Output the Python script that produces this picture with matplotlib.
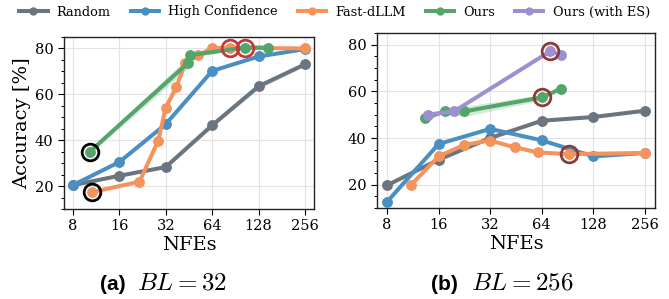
import matplotlib
matplotlib.use("Agg")
import matplotlib.pyplot as plt
import numpy as np
from matplotlib.ticker import FixedLocator, NullFormatter, MultipleLocator
from matplotlib.lines import Line2D

plt.rcParams['font.family'] = ['DejaVu Serif']
plt.rcParams['mathtext.fontset'] = 'cm'

# ---------------- data ----------------
nfe_ticks = [8, 16, 32, 64, 128, 256]

# (a) BL = 32
rand_x_a = [8, 16, 32, 64, 128, 256]
rand_y_a = [20.4, 24.5, 28.3, 46.5, 63.5, 73.1]
rand_s_a = [0.3, 0.5, 0.5, 0.8, 1.2, 0.8]
hc_x_a = [8, 16, 32, 64, 128, 256]
hc_y_a = [20.4, 30.5, 47.0, 70.2, 76.5, 79.7]
fd_x_a = [10.7, 21.6, 28.6, 32, 37.5, 42.7, 52, 64, 83, 256]
fd_y_a = [17.4, 21.9, 39.8, 54.2, 63.2, 73.5, 77.1, 80.1, 80.3, 80.0]
ours_x_a = [10.3, 44.8, 46, 105, 148]
ours_y_a = [35.0, 73.8, 77.1, 80.4, 80.4]
ours_s_a = [1.0, 2.5, 1.0, 0.3, 0.3]

# (b) BL = 256
rand_x_b = [8, 16, 32, 64, 128, 256]
rand_y_b = [19.7, 30.7, 40.0, 47.4, 49.0, 51.7]
rand_s_b = [0.3, 0.5, 0.5, 0.5, 0.5, 0.5]
hc_x_b = [8, 16, 32, 64, 128, 256]
hc_y_b = [12.6, 37.4, 43.9, 39.0, 32.1, 33.6]
fd_x_b = [11, 16, 22.6, 32, 44.6, 61, 92, 256]
fd_y_b = [19.7, 32.1, 37.1, 38.9, 36.0, 33.8, 33.1, 33.6]
ours_x_b = [13.3, 17.4, 22.6, 64, 82.5]
ours_y_b = [48.6, 51.4, 51.4, 57.4, 61.1]
ours_s_b = [0.8, 1.0, 2.2, 1.2, 0.8]
es_x_b = [13.9, 19.8, 71.4, 82.5]
es_y_b = [50.0, 51.5, 77.1, 75.7]

# highlighted points
black_pts_a = [(10.3, 35.0), (10.7, 17.4)]
red_pts_a = [(83, 80.3), (105, 80.4)]
red_pts_b = [(71.4, 77.1), (64, 57.4), (92, 33.1)]

labels = ["Random", "High Confidence", "Fast-dLLM", "Ours", "Ours (with ES)"]
colors = ["#6b7580", "#4a8fc1", "#f4935b", "#53a56a", "#9e8fd1"]

LW = 2.9
MS = 6.8

fig = plt.figure(figsize=(6.69, 2.99), dpi=100)
W, H = 669, 299
axA = fig.add_axes([64 / W, (H - 209) / H, (314 - 64) / W, (209 - 37) / H])
axB = fig.add_axes([377 / W, (H - 208) / H, (655 - 377) / W, (208 - 33) / H])


def line(ax, x, y, c, s=None):
    if s is not None:
        y = np.asarray(y)
        s = np.asarray(s)
        ax.fill_between(x, y - s, y + s, color=c, alpha=0.25, lw=0)
    ax.plot(x, y, '-o', color=c, lw=LW, ms=MS, zorder=3)


line(axA, rand_x_a, rand_y_a, colors[0], rand_s_a)
line(axA, hc_x_a, hc_y_a, colors[1])
line(axA, fd_x_a, fd_y_a, colors[2])
line(axA, ours_x_a, ours_y_a, colors[3], ours_s_a)
for (x, y) in black_pts_a:
    axA.plot([x], [y], 'o', mfc='none', mec='black', mew=2.0, ms=12, zorder=5)
for (x, y) in red_pts_a:
    axA.plot([x], [y], 'o', mfc='none', mec='#c8383a', mew=2.0, ms=12, zorder=5)

line(axB, rand_x_b, rand_y_b, colors[0], rand_s_b)
line(axB, hc_x_b, hc_y_b, colors[1])
line(axB, fd_x_b, fd_y_b, colors[2])
line(axB, ours_x_b, ours_y_b, colors[3], ours_s_b)
line(axB, es_x_b, es_y_b, colors[4])
for (x, y) in red_pts_b:
    axB.plot([x], [y], 'o', mfc='none', mec='#8c3a3a', mew=2.0, ms=12, zorder=5)

for ax in (axA, axB):
    ax.set_xscale('log', base=2)
    ax.set_xlim(7.0, 293)
    ax.set_ylim(10, 85)
    ax.xaxis.set_major_locator(FixedLocator(nfe_ticks))
    ax.set_xticklabels([str(t) for t in nfe_ticks])
    ax.xaxis.set_minor_locator(FixedLocator([12, 24, 48, 96, 192]))
    ax.xaxis.set_minor_formatter(NullFormatter())
    ax.yaxis.set_major_locator(MultipleLocator(20))
    ax.yaxis.set_minor_locator(MultipleLocator(5))
    ax.grid(True, which='major', color='#e3e3e3', lw=0.8)
    ax.set_axisbelow(True)
    ax.tick_params(axis='both', which='major', labelsize=10.5, length=4, width=0.8)
    ax.tick_params(axis='both', which='minor', length=2.5, width=0.7)
    ax.tick_params(axis='x', which='minor', length=0)
    for sp in ax.spines.values():
        sp.set_color('#222222')
        sp.set_linewidth(1.0)
    ax.set_xlabel('NFEs', fontsize=14, labelpad=2)

axA.set_ylabel('Accuracy [%]', fontsize=14, labelpad=3)

handles = [Line2D([], [], color=c, lw=LW, marker='o', ms=5) for c in colors]
fig.legend(handles, labels, loc='center', bbox_to_anchor=(0.5, 1 - 12 / H),
           ncol=5, frameon=False, fontsize=9.3, handlelength=2.2,
           handletextpad=0.7, columnspacing=1.55)

for tag_end, math_start, tag, expr in [(126, 137, '(a)', r'$BL = 32$'),
                                       (458, 471, '(b)', r'$BL = 256$')]:
    fig.text(tag_end / W, 1 - 284 / H, tag, ha='right', va='center',
             fontsize=15, fontweight='bold', family='Liberation Sans')
    fig.text(math_start / W, 1 - 283 / H, expr, ha='left', va='center', fontsize=18)

fig.savefig('out.png', dpi=100)
